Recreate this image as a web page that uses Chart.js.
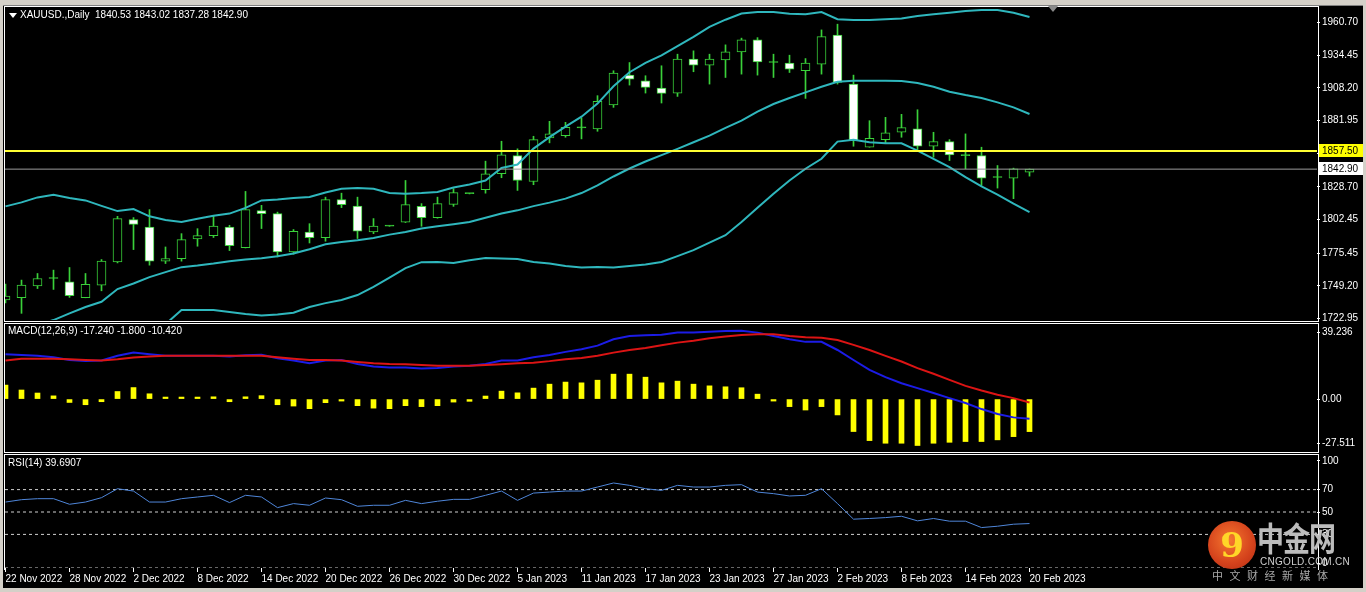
<!DOCTYPE html>
<html>
<head>
<meta charset="utf-8">
<script src="https://cdn.jsdelivr.net/npm/chart.js@4.4.1/dist/chart.umd.min.js"></script>
<style>
html,body{margin:0;padding:0;background:#000;width:1366px;height:592px;overflow:hidden;font-family:"Liberation Sans",Arial,sans-serif;}
canvas{position:absolute;left:0;}
.frame{position:absolute;border:1px solid #fff;box-sizing:border-box;z-index:5;}
.lbl{position:absolute;color:#fff;font-size:10px;white-space:pre;z-index:6;}
.strip{position:absolute;background:#d4d0c8;z-index:7;}
#logo div{position:absolute;z-index:8;}
</style>
</head>
<body>
<div class="strip" style="left:0;top:0;width:1366px;height:5px;border-bottom:1px solid #808080"></div>
<div class="strip" style="left:0;top:0;width:3px;height:592px"></div>
<div class="strip" style="left:1363px;top:0;width:3px;height:592px"></div>
<div class="strip" style="left:0;top:588px;width:1366px;height:4px"></div>

<canvas id="priceChart" width="1366" height="332" style="top:0"></canvas>
<canvas id="macdChart" width="1366" height="150" style="top:315px"></canvas>
<canvas id="rsiChart" width="1366" height="146" style="top:446px"></canvas>

<div class="frame" style="left:4px;top:6px;width:1315px;height:316px"></div>
<div class="frame" style="left:4px;top:323px;width:1315px;height:130px"></div>
<div class="frame" style="left:4px;top:454px;width:1315px;height:116px;border-bottom:none"></div>

<div style="position:absolute;left:9px;top:13px;width:0;height:0;border-left:4px solid transparent;border-right:4px solid transparent;border-top:5px solid #fff;z-index:6"></div>
<div class="lbl" style="left:20px;top:9px">XAUUSD.,Daily  1840.53 1843.02 1837.28 1842.90</div>
<div class="lbl" style="left:8px;top:325px">MACD(12,26,9) -17.240 -1.800 -10.420</div>
<div class="lbl" style="left:8px;top:457px">RSI(14) 39.6907</div>
<div style="position:absolute;left:1048px;top:6px;width:0;height:0;border-left:5px solid transparent;border-right:5px solid transparent;border-top:6px solid #8a8a8a;z-index:6"></div>

<div id="logo">
  <div style="left:1208px;top:521px;width:48px;height:48px;border-radius:50%;background:radial-gradient(circle at 45% 40%,#f6772f,#d4421c 60%,#b22c12);color:#ffd628;font:bold 34px 'DejaVu Serif',serif;text-align:center;line-height:48px">9</div>
  <div style="left:1257px;top:520px;font:bold 27px/1 'Noto Sans CJK SC';color:#bcbcbc;transform:scaleY(1.22);transform-origin:top left;letter-spacing:-1px">中金网</div>
  <div style="left:1260px;top:557px;font:10px/1 'Liberation Sans';color:#d0d0d0;letter-spacing:0.3px">CNGOLD.COM.CN</div>
  <div style="left:1212px;top:569px;font:11px/1.1 'Noto Sans CJK SC';color:#a8a8a8;letter-spacing:6.5px">中文财经新媒体</div>
</div>

<script>
// trading days shown, one per bar
const dates = [
'22 Nov 2022','23 Nov 2022','24 Nov 2022','25 Nov 2022','28 Nov 2022','29 Nov 2022','30 Nov 2022',
'1 Dec 2022','2 Dec 2022','5 Dec 2022','6 Dec 2022','7 Dec 2022','8 Dec 2022','9 Dec 2022','12 Dec 2022',
'13 Dec 2022','14 Dec 2022','15 Dec 2022','16 Dec 2022','19 Dec 2022','20 Dec 2022','21 Dec 2022','22 Dec 2022',
'23 Dec 2022','26 Dec 2022','27 Dec 2022','28 Dec 2022','29 Dec 2022','30 Dec 2022',
'2 Jan 2023','3 Jan 2023','4 Jan 2023','5 Jan 2023','6 Jan 2023','9 Jan 2023','10 Jan 2023','11 Jan 2023',
'12 Jan 2023','13 Jan 2023','16 Jan 2023','17 Jan 2023','18 Jan 2023','19 Jan 2023','20 Jan 2023','23 Jan 2023',
'24 Jan 2023','25 Jan 2023','26 Jan 2023','27 Jan 2023','30 Jan 2023','31 Jan 2023',
'1 Feb 2023','2 Feb 2023','3 Feb 2023','6 Feb 2023','7 Feb 2023','8 Feb 2023','9 Feb 2023','10 Feb 2023',
'13 Feb 2023','14 Feb 2023','15 Feb 2023','16 Feb 2023','17 Feb 2023','20 Feb 2023'];

const opens = [1737.8,1739.6,1749.2,1755.1,1752.4,1739.6,1749.8,1768.4,1802.4,1796.4,
1769.0,1771.1,1786.8,1789.5,1796.4,1779.9,1809.6,1807.2,1776.4,1792.4,
1787.9,1818.4,1813.2,1792.4,1797.2,1800.4,1813.0,1804.0,1814.6,1823.2,
1826.4,1839.2,1853.8,1833.0,1868.0,1869.8,1876.0,1875.2,1894.4,1918.4,
1913.9,1908.0,1904.0,1931.2,1926.4,1930.7,1937.1,1946.7,1928.5,1928.0,
1921.9,1927.2,1950.5,1911.2,1860.5,1866.6,1872.5,1875.2,1861.3,1865.0,
1853.8,1853.8,1836.2,1835.7,1840.53];
const highs = [1750.6,1753.8,1759.1,1761.8,1763.9,1759.1,1770.3,1805.0,1804.0,1810.4,
1780.4,1791.1,1795.1,1805.2,1797.8,1825.0,1813.8,1808.4,1794.4,1799.1,
1820.4,1823.6,1820.4,1803.2,1797.4,1833.8,1815.2,1820.4,1827.2,1823.4,
1849.3,1865.3,1859.2,1869.3,1881.3,1880.5,1884.0,1901.9,1921.9,1928.5,
1917.9,1925.9,1935.2,1937.9,1935.2,1942.7,1948.1,1948.5,1935.2,1934.4,
1931.7,1954.7,1959.3,1918.4,1881.8,1884.5,1886.9,1890.6,1872.5,1866.6,
1871.2,1860.5,1845.8,1843.7,1843.02];
const lows = [1735.5,1727.1,1747.0,1746.3,1739.9,1739.6,1745.2,1767.6,1778.3,1765.8,
1767.1,1769.0,1781.0,1788.0,1777.5,1779.6,1795.2,1772.4,1774.6,1783.6,
1785.0,1812.0,1787.2,1791.1,1797.0,1800.0,1797.0,1803.5,1813.0,1823.0,
1823.6,1836.0,1825.8,1830.4,1864.0,1868.5,1867.2,1873.3,1892.5,1910.4,
1904.0,1896.0,1901.3,1921.1,1911.2,1916.5,1919.2,1918.4,1916.5,1920.5,
1899.7,1919.2,1911.2,1861.3,1860.5,1864.0,1868.5,1858.6,1852.5,1849.8,
1843.2,1829.8,1827.7,1819.2,1837.28];
const closes = [1741.0,1749.8,1755.1,1755.1,1741.2,1750.3,1769.0,1803.2,1798.6,1769.0,
1771.1,1786.3,1789.5,1797.2,1781.5,1810.4,1807.2,1776.4,1793.0,1787.9,
1818.4,1814.4,1793.0,1797.2,1797.2,1814.4,1804.0,1815.2,1824.0,1823.2,
1839.2,1854.4,1833.8,1866.6,1871.2,1876.5,1876.0,1897.3,1920.0,1915.2,
1908.5,1903.7,1931.2,1926.4,1931.2,1937.1,1946.7,1929.1,1928.5,1923.2,
1928.0,1949.3,1912.5,1865.8,1867.7,1872.0,1876.3,1861.3,1865.0,1854.4,
1853.8,1835.7,1836.2,1843.2,1842.90];

// Bollinger Bands (20, 2)
const upperBand = [1813.0,1816.2,1820.2,1822.4,1819.7,1817.8,1813.4,1809.2,1810.8,1805.0,
1802.0,1800.4,1803.0,1805.4,1807.2,1811.8,1817.8,1818.6,1819.7,1820.5,
1824.2,1827.2,1827.7,1827.2,1823.7,1823.2,1823.7,1824.5,1828.2,1830.6,
1833.8,1843.8,1846.6,1859.4,1868.6,1877.1,1885.0,1895.5,1909.5,1920.7,
1928.3,1934.3,1941.6,1949.1,1957.1,1962.9,1967.9,1969.1,1969.1,1967.7,
1967.3,1969.1,1963.3,1962.7,1962.7,1963.3,1963.9,1965.9,1967.3,1968.5,
1969.9,1970.7,1970.7,1968.5,1965.1];
const midBand = [1712.0,1715.0,1718.0,1721.7,1727.1,1732.2,1736.4,1746.6,1751.1,1756.2,
1760.2,1764.2,1765.5,1767.1,1769.0,1770.3,1771.4,1773.0,1775.1,1778.6,
1782.6,1784.4,1785.8,1787.6,1790.3,1792.4,1795.2,1797.0,1798.6,1800.4,
1803.8,1807.2,1809.8,1813.2,1816.0,1819.2,1823.7,1829.8,1837.0,1843.4,
1849.0,1854.2,1859.2,1864.5,1869.8,1876.0,1881.8,1889.1,1895.2,1900.0,
1904.5,1909.1,1913.1,1913.9,1913.9,1913.9,1913.6,1912.0,1909.1,1905.1,
1902.4,1900.0,1896.5,1892.5,1887.2];
const lowerBand = [1611.0,1614.0,1616.0,1621.0,1634.5,1646.6,1659.4,1684.0,1691.4,1707.4,
1718.4,1729.7,1729.7,1729.7,1728.2,1726.6,1725.3,1726.2,1727.6,1732.2,
1735.3,1737.8,1741.8,1748.4,1755.8,1763.4,1768.2,1768.4,1767.5,1769.8,
1771.6,1771.1,1770.8,1768.4,1767.1,1765.2,1763.9,1764.4,1763.9,1765.2,
1766.3,1768.4,1773.0,1777.8,1783.9,1789.8,1800.4,1811.8,1823.2,1833.8,
1843.2,1851.2,1865.0,1866.4,1864.5,1863.7,1863.7,1857.8,1851.2,1844.5,
1836.5,1829.0,1822.4,1815.2,1808.4];

const levelPrice = 1857.50;
const lastPrice = 1842.90;
const priceTicks = [1960.70,1934.45,1908.20,1881.95,1855.70,1828.70,1802.45,1775.45,1749.20,1722.95];

// MACD(12,26,9): histogram, DIF (blue), DEA (red)
const macdHist = [7.4,4.8,3.2,1.7,-1.8,-3.0,-1.4,4.0,6.1,2.8,
0.7,0.5,0.5,1.2,-1.4,1.2,1.8,-3.0,-3.7,-5.1,
-1.9,-0.9,-3.5,-4.8,-5.1,-3.5,-4.0,-3.5,-1.6,-1.2,
1.6,4.2,3.3,5.8,7.9,9.0,8.6,10.0,13.2,13.2,
11.6,8.6,9.5,7.9,7.0,6.5,6.0,2.6,-0.9,-4.0,
-5.8,-4.0,-8.4,-17.2,-22.0,-23.4,-23.4,-24.6,-23.4,-22.9,
-22.5,-22.5,-21.6,-19.9,-17.24];
const macdDif = [23.8,23.4,22.9,22.2,20.7,20.1,20.4,22.9,24.6,23.8,
22.9,22.9,22.9,22.9,22.5,23.2,23.5,21.6,20.4,19.0,
20.4,20.7,18.6,17.2,16.7,16.7,16.2,16.4,17.2,17.6,
18.6,20.4,20.4,22.2,23.4,25.0,26.4,28.3,31.7,33.4,
33.8,34.1,35.2,35.2,35.7,36.1,36.2,35.2,33.4,31.7,
30.3,30.3,26.0,20.7,15.5,11.6,8.4,5.8,3.2,0.5,
-2.1,-5.3,-7.9,-9.7,-10.42];
const macdDea = [20.4,21.3,21.4,21.4,21.1,20.7,20.4,21.1,22.0,22.5,
22.9,22.9,22.9,22.9,22.9,22.9,22.9,22.2,21.4,20.7,
20.7,20.4,19.7,19.0,18.6,18.5,18.1,17.7,17.6,17.6,
18.0,18.5,19.0,19.3,20.1,21.1,21.8,22.9,24.6,26.0,
27.0,28.5,29.9,30.9,32.2,33.1,33.9,34.3,34.3,33.4,
32.7,32.5,31.3,28.7,26.0,22.9,19.9,16.4,13.4,10.2,
7.0,4.5,2.3,0.5,-1.8];
const macdTicks = [39.236, 0, -27.511];
const macdTickText = ['39.236','0.00','-27.511'];

// RSI(14)
const rsi = [58.9,61.0,61.9,61.9,56.9,58.9,62.8,70.8,68.7,58.9,
58.9,61.9,63.4,64.9,58.4,64.9,63.4,53.9,57.5,56.0,
62.5,61.0,55.1,56.0,56.0,60.4,57.5,59.6,61.3,61.3,
64.9,68.7,60.4,66.9,67.8,68.7,68.7,72.3,75.9,73.8,
70.8,69.3,73.8,72.3,72.3,73.8,74.4,67.8,66.4,64.3,
64.9,70.8,57.5,43.6,44.2,45.0,46.2,42.1,44.2,41.8,
41.8,36.1,37.3,39.1,39.69];
const rsiLevels = [70, 50, 30, 0];
const rsiTicks = [100, 70, 50, 30, 0];

const GREEN = '#3ad13a';
const BAND = '#2fb7bd';
const FONT = {family: '"Liberation Sans", Arial, sans-serif', size: 10};
const xMin = -0.03125, xMax = xMin + 82;
const AXIS_W = 49;

function xScale(show) {
  const s = {type: 'linear', min: xMin, max: xMax, offset: false, display: show};
  if (!show) return s;
  return Object.assign(s, {
    afterFit: sc => { sc.height = 24; },
    afterBuildTicks: sc => {
      const t = [];
      for (let i = 0; i < dates.length; i += 4) t.push({value: i});
      sc.ticks = t;
    },
    ticks: {color: '#fff', font: FONT, align: 'start', maxRotation: 0, autoSkip: false, padding: 1,
      callback: v => dates[v]},
    grid: {drawOnChartArea: false, color: '#fff', tickLength: 4, offset: false},
    border: {display: false}
  });
}

// shifts: px to move the label inward at the pane edges
function yScale(min, max, vals, text, shifts, paneH) {
  return {
    type: 'linear', position: 'right', min, max,
    afterFit: s => { s.width = AXIS_W; },
    afterBuildTicks: s => {
      const perPx = (s.max - s.min) / paneH;
      s.ticks = vals.map((v, i) => ({value: v - (shifts[i] || 0) * perPx}));
    },
    ticks: {color: '#fff', font: FONT, padding: 2, autoSkip: false, callback: (v, i) => text[i]},
    grid: {drawOnChartArea: false, color: '#fff', tickLength: 3},
    border: {display: false}
  };
}

function hline(v, color, w, order, dash) {
  return {type: 'line', data: [{x: xMin, y: v}, {x: xMax, y: v}], borderColor: color,
    borderWidth: w, borderDash: dash || [], pointRadius: 0, order};
}
function series(values, color, w, order) {
  return {type: 'line', data: values.map((v, i) => ({x: i, y: v})), borderColor: color,
    borderWidth: w, pointRadius: 0, tension: 0, order};
}
function base(padding) {
  return {
    responsive: false, animation: false, devicePixelRatio: 1, events: [],
    layout: {padding},
    plugins: {legend: {display: false}, tooltip: {enabled: false}}
  };
}

const priceTags = {
  id: 'priceTags',
  afterDraw(chart) {
    const {ctx, chartArea, scales: {y}} = chart;
    [[levelPrice, '#ffff00'], [lastPrice, '#ffffff']].forEach(([v, bg]) => {
      const py = Math.round(y.getPixelForValue(v));
      ctx.fillStyle = bg;
      ctx.fillRect(chartArea.right + 2, py - 7, 44, 13);
      ctx.fillStyle = '#000';
      ctx.font = '10px "Liberation Sans"';
      ctx.textBaseline = 'middle';
      ctx.fillText(v.toFixed(2), chartArea.right + 5, py);
    });
  }
};

new Chart(document.getElementById('priceChart'), {
  type: 'bar',
  data: {datasets: [
    hline(levelPrice, '#ffff33', 2, 0),
    hline(lastPrice, '#9c9c9c', 1, 1),
    series(upperBand, BAND, 2, 2),
    series(midBand, BAND, 2, 3),
    series(lowerBand, BAND, 2, 4),
    {
      data: opens.map((o, i) => ({x: i, y: [o, closes[i]]})),
      backgroundColor: c => {
        const i = c.dataIndex;
        return closes[i] > opens[i] ? '#000' : closes[i] < opens[i] ? '#fff' : GREEN;
      },
      borderColor: GREEN, borderWidth: 1, borderSkipped: false,
      barThickness: 9, minBarLength: 1, grouped: false, order: 5
    },
    {
      data: lows.map((l, i) => ({x: i, y: [l, highs[i]]})),
      backgroundColor: GREEN, borderWidth: 0, barThickness: 1, grouped: false, order: 6
    }
  ]},
  options: Object.assign(base({left: 5, top: 7, bottom: 12, right: 0}), {
    scales: {
      x: xScale(false),
      y: yScale(1721.75, 1972.3, priceTicks, priceTicks.map(v => v.toFixed(2)), [], 313)
    }
  }),
  plugins: [priceTags]
});

new Chart(document.getElementById('macdChart'), {
  type: 'bar',
  data: {datasets: [
    series(macdDea, '#dc1414', 2, 0),
    series(macdDif, '#1c1ce6', 2, 1),
    {data: macdHist.map((v, i) => ({x: i, y: v})), backgroundColor: '#ffff00',
      borderWidth: 0, barThickness: 5, minBarLength: 2, grouped: false, order: 2}
  ]},
  options: Object.assign(base({left: 5, top: 10, bottom: 14, right: 0}), {
    scales: {
      x: xScale(false),
      y: yScale(-27.511, 39.236, macdTicks, macdTickText, [7, 0, -8], 126)
    }
  })
});

new Chart(document.getElementById('rsiChart'), {
  type: 'line',
  data: {datasets: [
    series(rsi, '#4f86d9', 1, 0),
    ...rsiLevels.map((v, k) => hline(v, '#cfcfcf', 1, 1 + k, [3, 3]))
  ]},
  options: Object.assign(base({left: 5, top: 10, bottom: 0, right: 0}), {
    scales: {
      x: xScale(true),
      y: yScale(0, 100, rsiTicks, rsiTicks.map(String), [5, 0, 0, 0, -5], 112)
    }
  })
});
</script>
</body>
</html>
